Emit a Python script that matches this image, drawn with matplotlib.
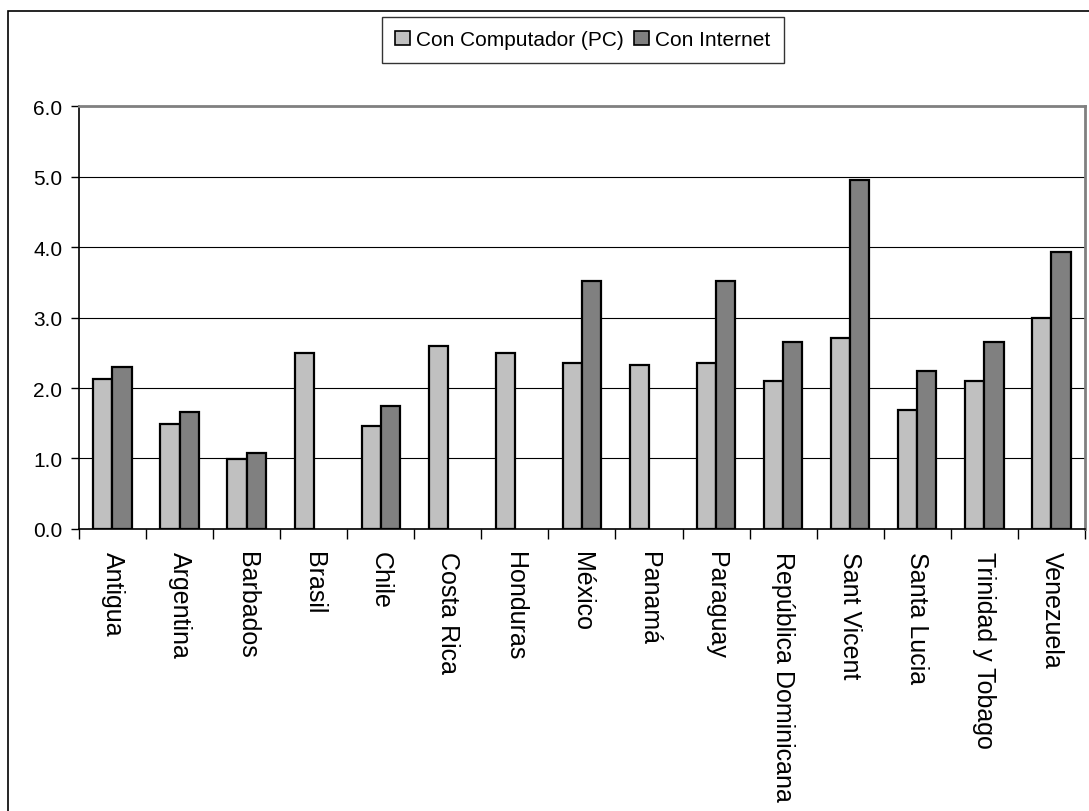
import numpy as np
from matplotlib import pyplot as plt
from matplotlib.patches import Rectangle

paises = ["Antigua", "Argentina", "Barbados", "Brasil", "Chile", "Costa Rica",
          "Honduras", "México", "Panamá", "Paraguay", "República Dominicana",
          "Sant Vicent", "Santa Lucia", "Trinidad y Tobago", "Venezuela"]
con_pc = [2.13, 1.49, 0.99, 2.50, 1.46, 2.59, 2.50, 2.36, 2.33, 2.36, 2.10, 2.71, 1.69, 2.10, 3.00]
con_internet = [2.30, 1.66, 1.08, np.nan, 1.75, np.nan, np.nan, 3.52, np.nan, 3.52, 2.65, 4.95, 2.24, 2.65, 3.93]
yticks = [0.0, 1.0, 2.0, 3.0, 4.0, 5.0, 6.0]

plt.rcParams['font.family'] = ['Liberation Sans', 'DejaVu Sans']
plt.rcParams['font.size'] = 15

fig = plt.figure(figsize=(10.89, 8.12), dpi=100)
ax = fig.add_axes([0.0725, 0.3473, 0.9238, 0.5209])

x = np.arange(len(paises)) + 0.5
w = 0.286
ax.bar(x - w/2, con_pc, w, color='#C0C0C0', edgecolor='black', linewidth=1.6,
       label="Con Computador (PC)", zorder=3)
ax.bar(x + w/2, con_internet, w, color='#808080', edgecolor='black', linewidth=1.6,
       label="Con Internet", zorder=3)

ax.set_xlim(0, len(paises))
ax.set_ylim(0, 6)
ax.set_yticks(yticks)
ax.set_yticklabels(["%.1f" % v for v in yticks])
ax.tick_params(axis='y', direction='out', length=6, width=1, pad=6)

# ticks at category boundaries, labels at centers
ax.set_xticks(np.arange(len(paises) + 1))
ax.set_xticklabels([])
ax.tick_params(axis='x', which='major', direction='out', length=7, width=1)
ax.set_xticks(x, minor=True)
ax.set_xticklabels(paises, minor=True, rotation=270, va='top', ha='center', fontsize=18)
ax.tick_params(axis='x', which='minor', length=0, pad=16)

ax.grid(axis='y', color='black', linewidth=0.8, zorder=0)
ax.spines['top'].set_color('#808080')
ax.spines['top'].set_linewidth(2)
ax.spines['right'].set_color('#808080')
ax.spines['right'].set_linewidth(2)
ax.spines['left'].set_linewidth(1.2)
ax.spines['bottom'].set_linewidth(1.2)

leg = fig.legend(loc='upper center', bbox_to_anchor=(0.535, 0.978), ncol=2,
                 frameon=True, fancybox=False, shadow=False, handlelength=0.7,
                 handleheight=0.7, handletextpad=0.3, columnspacing=0.5,
                 borderpad=0.65, borderaxespad=0)
leg.get_frame().set_edgecolor('black')
leg.get_frame().set_linewidth(1)
for h in leg.legend_handles:
    h.set_linewidth(1.2)

# marco del grafico
fig.patches.append(Rectangle((0.0073, -0.05), 1.1, 0.0352 + 0.05 + 0.9500,
                             transform=fig.transFigure, fill=False,
                             edgecolor='black', linewidth=1.2))

fig.savefig("out.png")
